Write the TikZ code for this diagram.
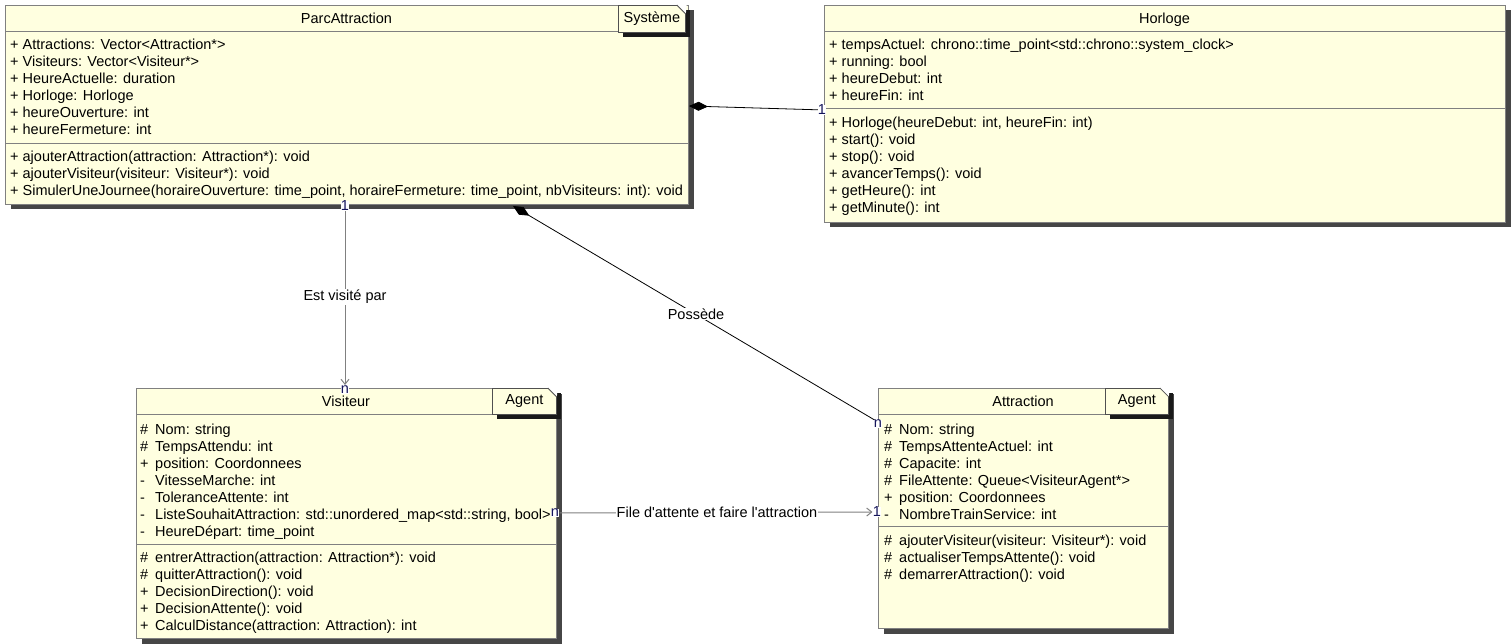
\documentclass[tikz,border=0pt]{standalone}
\usepackage{fontspec}
\setmainfont{Liberation Sans}
\usetikzlibrary{arrows.meta,shadows}
\definecolor{cfill}{RGB}{255,255,224}
\definecolor{cborder}{RGB}{128,128,128}
\definecolor{sborder}{RGB}{80,80,80}
\definecolor{cshadow}{RGB}{70,70,70}
\definecolor{sshadow}{RGB}{25,25,25}
\definecolor{multc}{RGB}{20,20,90}
\newcommand{\txtfont}{\fontsize{14.5}{16}\selectfont}
\newcommand{\vis}[1]{\makebox[15pt][l]{#1}}
\begin{document}
\begin{tikzpicture}[x=1pt,y=-1pt,
  classbox/.style={draw=cborder, fill=cfill, line width=1pt, inner sep=0pt, anchor=north west,
    general shadow={fill=cshadow, shadow xshift=5pt, shadow yshift=-5pt}},
  stereobox/.style={draw=sborder, fill=cfill, line width=0.8pt, inner sep=0pt, anchor=north west,
    font=\txtfont, general shadow={fill=sshadow, shadow xshift=5pt, shadow yshift=-5pt}},
  sepline/.style={draw=cborder, line width=1pt},
  attr/.style={anchor=base west, inner sep=0pt, font=\txtfont},
  ctitle/.style={anchor=base, inner sep=0pt, font=\txtfont},
  mult/.style={fill=white, inner sep=0.3pt, font=\txtfont, text=multc},
  lbl/.style={fill=white, inner sep=1pt, font=\txtfont},
  grayline/.style={draw=cborder, line width=1pt},
  blackline/.style={draw=black, line width=0.8pt},
  openarrow/.style={-{Straight Barb[length=5pt,width=8pt]}},
  compo/.style={{Diamond[length=19pt,width=9pt]}-}
]
\useasboundingbox (0,0) rectangle (1511,644);

% ---------- ParcAttraction ----------
\node[classbox, minimum width=683pt, minimum height=199pt] (parc) at (5,5) {};
\draw[sepline] ([yshift=-27pt]parc.north west) -- ([yshift=-27pt]parc.north east);
\draw[sepline] ([yshift=-139pt]parc.north west) -- ([yshift=-139pt]parc.north east);
\node[ctitle] (parct) at (346.5,24) {ParcAttraction};
\node[stereobox, minimum width=67pt, minimum height=27pt] (sysst) at (618,5) {Système};
\fill[white] ([xshift=-9pt]sysst.north east) -- ([xshift=1pt,yshift=1pt]sysst.north east) -- ([yshift=-9pt]sysst.north east) -- cycle;
\draw[sborder, line width=0.8pt] ([xshift=-9pt]sysst.north east) -- ([yshift=-9pt]sysst.north east);
\node[attr] (pa1) at (10,50) {+ Attractions: Vector<Attraction*>};
\node[attr] (pa2) at (10,67) {+ Visiteurs: Vector<Visiteur*>};
\node[attr] (pa3) at (10,84) {+ HeureActuelle: duration};
\node[attr] (pa4) at (10,101) {+ Horloge: Horloge};
\node[attr] (pa5) at (10,118) {+ heureOuverture: int};
\node[attr] (pa6) at (10,135) {+ heureFermeture: int};
\node[attr] (pm1) at (10,162) {+ ajouterAttraction(attraction: Attraction*): void};
\node[attr] (pm2) at (10,179) {+ ajouterVisiteur(visiteur: Visiteur*): void};
\node[attr] (pm3) at (10,196) {+ SimulerUneJournee(horaireOuverture: time\_point, horaireFermeture: time\_point, nbVisiteurs: int): void};

% ---------- Horloge ----------
\node[classbox, minimum width=681pt, minimum height=217pt] (horl) at (824,5) {};
\draw[sepline] ([yshift=-27pt]horl.north west) -- ([yshift=-27pt]horl.north east);
\draw[sepline] ([yshift=-104pt]horl.north west) -- ([yshift=-104pt]horl.north east);
\node[ctitle] (horlt) at (1164.5,24) {Horloge};
\node[attr] (ha1) at (829,50) {+ tempsActuel: chrono::time\_point<std::chrono::system\_clock>};
\node[attr] (ha2) at (829,67) {+ running: bool};
\node[attr] (ha3) at (829,84) {+ heureDebut: int};
\node[attr] (ha4) at (829,101) {+ heureFin: int};
\node[attr] (hm1) at (829,128) {+ Horloge(heureDebut: int, heureFin: int)};
\node[attr] (hm2) at (829,145) {+ start(): void};
\node[attr] (hm3) at (829,162) {+ stop(): void};
\node[attr] (hm4) at (829,179) {+ avancerTemps(): void};
\node[attr] (hm5) at (829,196) {+ getHeure(): int};
\node[attr] (hm6) at (829,213) {+ getMinute(): int};

% ---------- Visiteur ----------
\node[classbox, minimum width=420pt, minimum height=250pt] (visi) at (136,388) {};
\draw[sepline] ([yshift=-26pt]visi.north west) -- ([yshift=-26pt]visi.north east);
\draw[sepline] ([yshift=-156pt]visi.north west) -- ([yshift=-156pt]visi.north east);
\node[ctitle] (visit) at (346,406) {Visiteur};
\node[stereobox, minimum width=64pt, minimum height=26pt] (vst) at (492,388) {Agent};
\fill[white] ([xshift=-9pt]vst.north east) -- ([xshift=1pt,yshift=1pt]vst.north east) -- ([yshift=-9pt]vst.north east) -- cycle;
\draw[sborder, line width=0.8pt] ([xshift=-9pt]vst.north east) -- ([yshift=-9pt]vst.north east);
\node[attr] (va1) at (140,434) {\vis{\#}Nom: string};
\node[attr] (va2) at (140,451) {\vis{\#}TempsAttendu: int};
\node[attr] (va3) at (140,468) {\vis{+}position: Coordonnees};
\node[attr] (va4) at (140,485) {\vis{-}VitesseMarche: int};
\node[attr] (va5) at (140,502) {\vis{-}ToleranceAttente: int};
\node[attr] (va6) at (140,519) {\vis{-}ListeSouhaitAttraction: std::unordered\_map<std::string, bool>};
\node[attr] (va7) at (140,536) {\vis{-}HeureDépart: time\_point};
\node[attr] (vm1) at (140,562) {\vis{\#}entrerAttraction(attraction: Attraction*): void};
\node[attr] (vm2) at (140,579) {\vis{\#}quitterAttraction(): void};
\node[attr] (vm3) at (140,596) {\vis{+}DecisionDirection(): void};
\node[attr] (vm4) at (140,613) {\vis{+}DecisionAttente(): void};
\node[attr] (vm5) at (140,630) {\vis{+}CalculDistance(attraction: Attraction): int};

% ---------- Attraction ----------
\node[classbox, minimum width=290pt, minimum height=240pt] (attr) at (878,388) {};
\draw[sepline] ([yshift=-26pt]attr.north west) -- ([yshift=-26pt]attr.north east);
\draw[sepline] ([yshift=-138pt]attr.north west) -- ([yshift=-138pt]attr.north east);
\node[ctitle] (attrt) at (1023,406) {Attraction};
\node[stereobox, minimum width=63pt, minimum height=26pt] (ast) at (1105,388) {Agent};
\fill[white] ([xshift=-9pt]ast.north east) -- ([xshift=1pt,yshift=1pt]ast.north east) -- ([yshift=-9pt]ast.north east) -- cycle;
\draw[sborder, line width=0.8pt] ([xshift=-9pt]ast.north east) -- ([yshift=-9pt]ast.north east);
\node[attr] (aa1) at (884,434) {\vis{\#}Nom: string};
\node[attr] (aa2) at (884,451) {\vis{\#}TempsAttenteActuel: int};
\node[attr] (aa3) at (884,468) {\vis{\#}Capacite: int};
\node[attr] (aa4) at (884,485) {\vis{\#}FileAttente: Queue<VisiteurAgent*>};
\node[attr] (aa5) at (884,502) {\vis{+}position: Coordonnees};
\node[attr] (aa6) at (884,519) {\vis{-}NombreTrainService: int};
\node[attr] (am1) at (884,545) {\vis{\#}ajouterVisiteur(visiteur: Visiteur*): void};
\node[attr] (am2) at (884,562) {\vis{\#}actualiserTempsAttente(): void};
\node[attr] (am3) at (884,579) {\vis{\#}demarrerAttraction(): void};

% ---------- connectors ----------
\coordinate (c1s) at ([yshift=-101pt]parc.north east);
\coordinate (c1e) at ([yshift=-105pt]horl.north west);
\draw[blackline, compo] (c1s) -- (c1e);
\node[mult] (m1) at (822,110) {1};

\node[mult] (m2a) at (345,206) {1};
\node[mult] (m2b) at (345,390) {n};
\coordinate (c2s) at ([xshift=340pt]parc.south west);
\coordinate (c2e) at ([xshift=209pt]visi.north west);
\draw[grayline, openarrow, shorten >=3pt] (m2a) -- (c2e);
\node[lbl] (l2) at (345,297) {Est visité par};

\coordinate (c3s) at ([xshift=508pt,yshift=-1pt]parc.south west);
\coordinate (c3e) at ([yshift=-34pt]attr.north west);
\draw[blackline, compo] (c3s) -- (c3e);
\node[lbl] (l3) at (696,314) {Possède};
\node[mult] (m3) at (878,424) {n};

\node[mult] (m4a) at (555,513) {n};
\node[mult] (m4b) at (877,512) {1};
\coordinate (c4s) at ([yshift=-125pt]visi.north east);
\coordinate (c4e) at ([yshift=-124pt]attr.north west);
\draw[grayline, openarrow] (m4a) -- (m4b);
\node[lbl] (l4) at (717,512) {File d\textquotesingle attente et faire l\textquotesingle attraction};
\end{tikzpicture}
\end{document}
